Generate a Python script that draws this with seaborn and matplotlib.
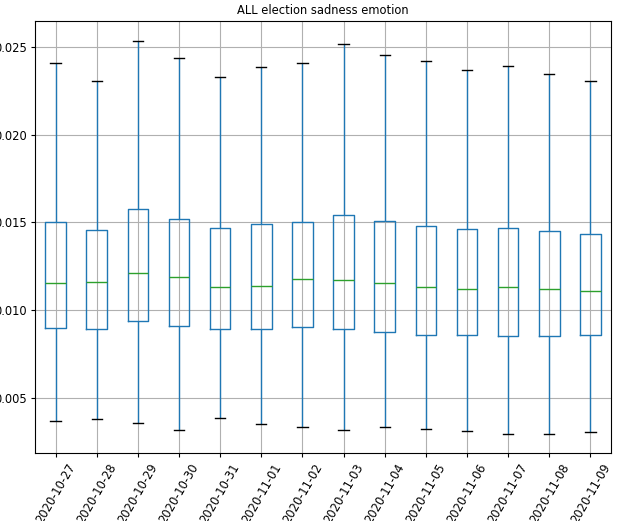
import numpy as np
import pandas as pd
import matplotlib
matplotlib.use("Agg")
import matplotlib.pyplot as plt
import seaborn as sns

dates = ["2020-10-27", "2020-10-28", "2020-10-29", "2020-10-30", "2020-10-31",
         "2020-11-01", "2020-11-02", "2020-11-03", "2020-11-04", "2020-11-05",
         "2020-11-06", "2020-11-07", "2020-11-08", "2020-11-09"]
whisker_low = [0.00364, 0.00375, 0.00353, 0.00312, 0.00381, 0.00347, 0.00330,
               0.00312, 0.00330, 0.00318, 0.00307, 0.00291, 0.00291, 0.00301]
q1 = [0.00895, 0.00890, 0.00935, 0.00907, 0.00890, 0.00890, 0.00901,
      0.00890, 0.00873, 0.00855, 0.00855, 0.00850, 0.00850, 0.00855]
median = [0.01155, 0.01158, 0.01210, 0.01187, 0.01130, 0.01137, 0.01175,
          0.01170, 0.01152, 0.01130, 0.01118, 0.01130, 0.01118, 0.01107]
q3 = [0.01503, 0.01457, 0.01575, 0.01518, 0.01467, 0.01490, 0.01503,
      0.01541, 0.01507, 0.01478, 0.01461, 0.01467, 0.01450, 0.01433]
whisker_high = [0.02411, 0.02309, 0.02535, 0.02438, 0.02330, 0.02387, 0.02411,
                0.02518, 0.02455, 0.02421, 0.02370, 0.02393, 0.02347, 0.02307]

rows = []
for i, d in enumerate(dates):
    for v in (whisker_low[i], q1[i], median[i], q3[i], whisker_high[i]):
        rows.append({"date": d, "value": v})
df = pd.DataFrame(rows)

FS = 8.3
fig = plt.figure(figsize=(6.2, 5.21), dpi=100)
ax = fig.add_axes([0.0565, 0.1305, 0.929, 0.8292])

sns.boxplot(data=df, x="date", y="value", order=dates, ax=ax, fill=False,
            whis=(0, 100), width=0.5, linewidth=1.0, color="#1f77b4",
            medianprops=dict(color="#2ca02c", linewidth=1.0),
            capprops=dict(color="black", linewidth=1.0),
            whiskerprops=dict(color="#1f77b4", linewidth=1.0),
            boxprops=dict(color="#1f77b4", linewidth=1.0),
            showfliers=False)

ax.set_ylim(0.00183, 0.02651)
ax.set_yticks([0.005, 0.010, 0.015, 0.020, 0.025])
ax.set_yticklabels(["0.005", "0.010", "0.015", "0.020", "0.025"])
ax.set_xlim(-0.5, len(dates) - 0.5)
ax.grid(True, color="#b0b0b0", linewidth=0.8)
ax.set_axisbelow(True)
ax.set_xlabel("")
ax.set_ylabel("")
ax.set_title("ALL election sadness emotion", fontsize=FS, pad=5)
ax.tick_params(labelsize=FS, length=3, width=0.8, pad=3)
plt.setp(ax.get_xticklabels(), rotation=60)
for s in ax.spines.values():
    s.set_color("black")
    s.set_linewidth(0.8)

fig.savefig("out.png", dpi=100)
